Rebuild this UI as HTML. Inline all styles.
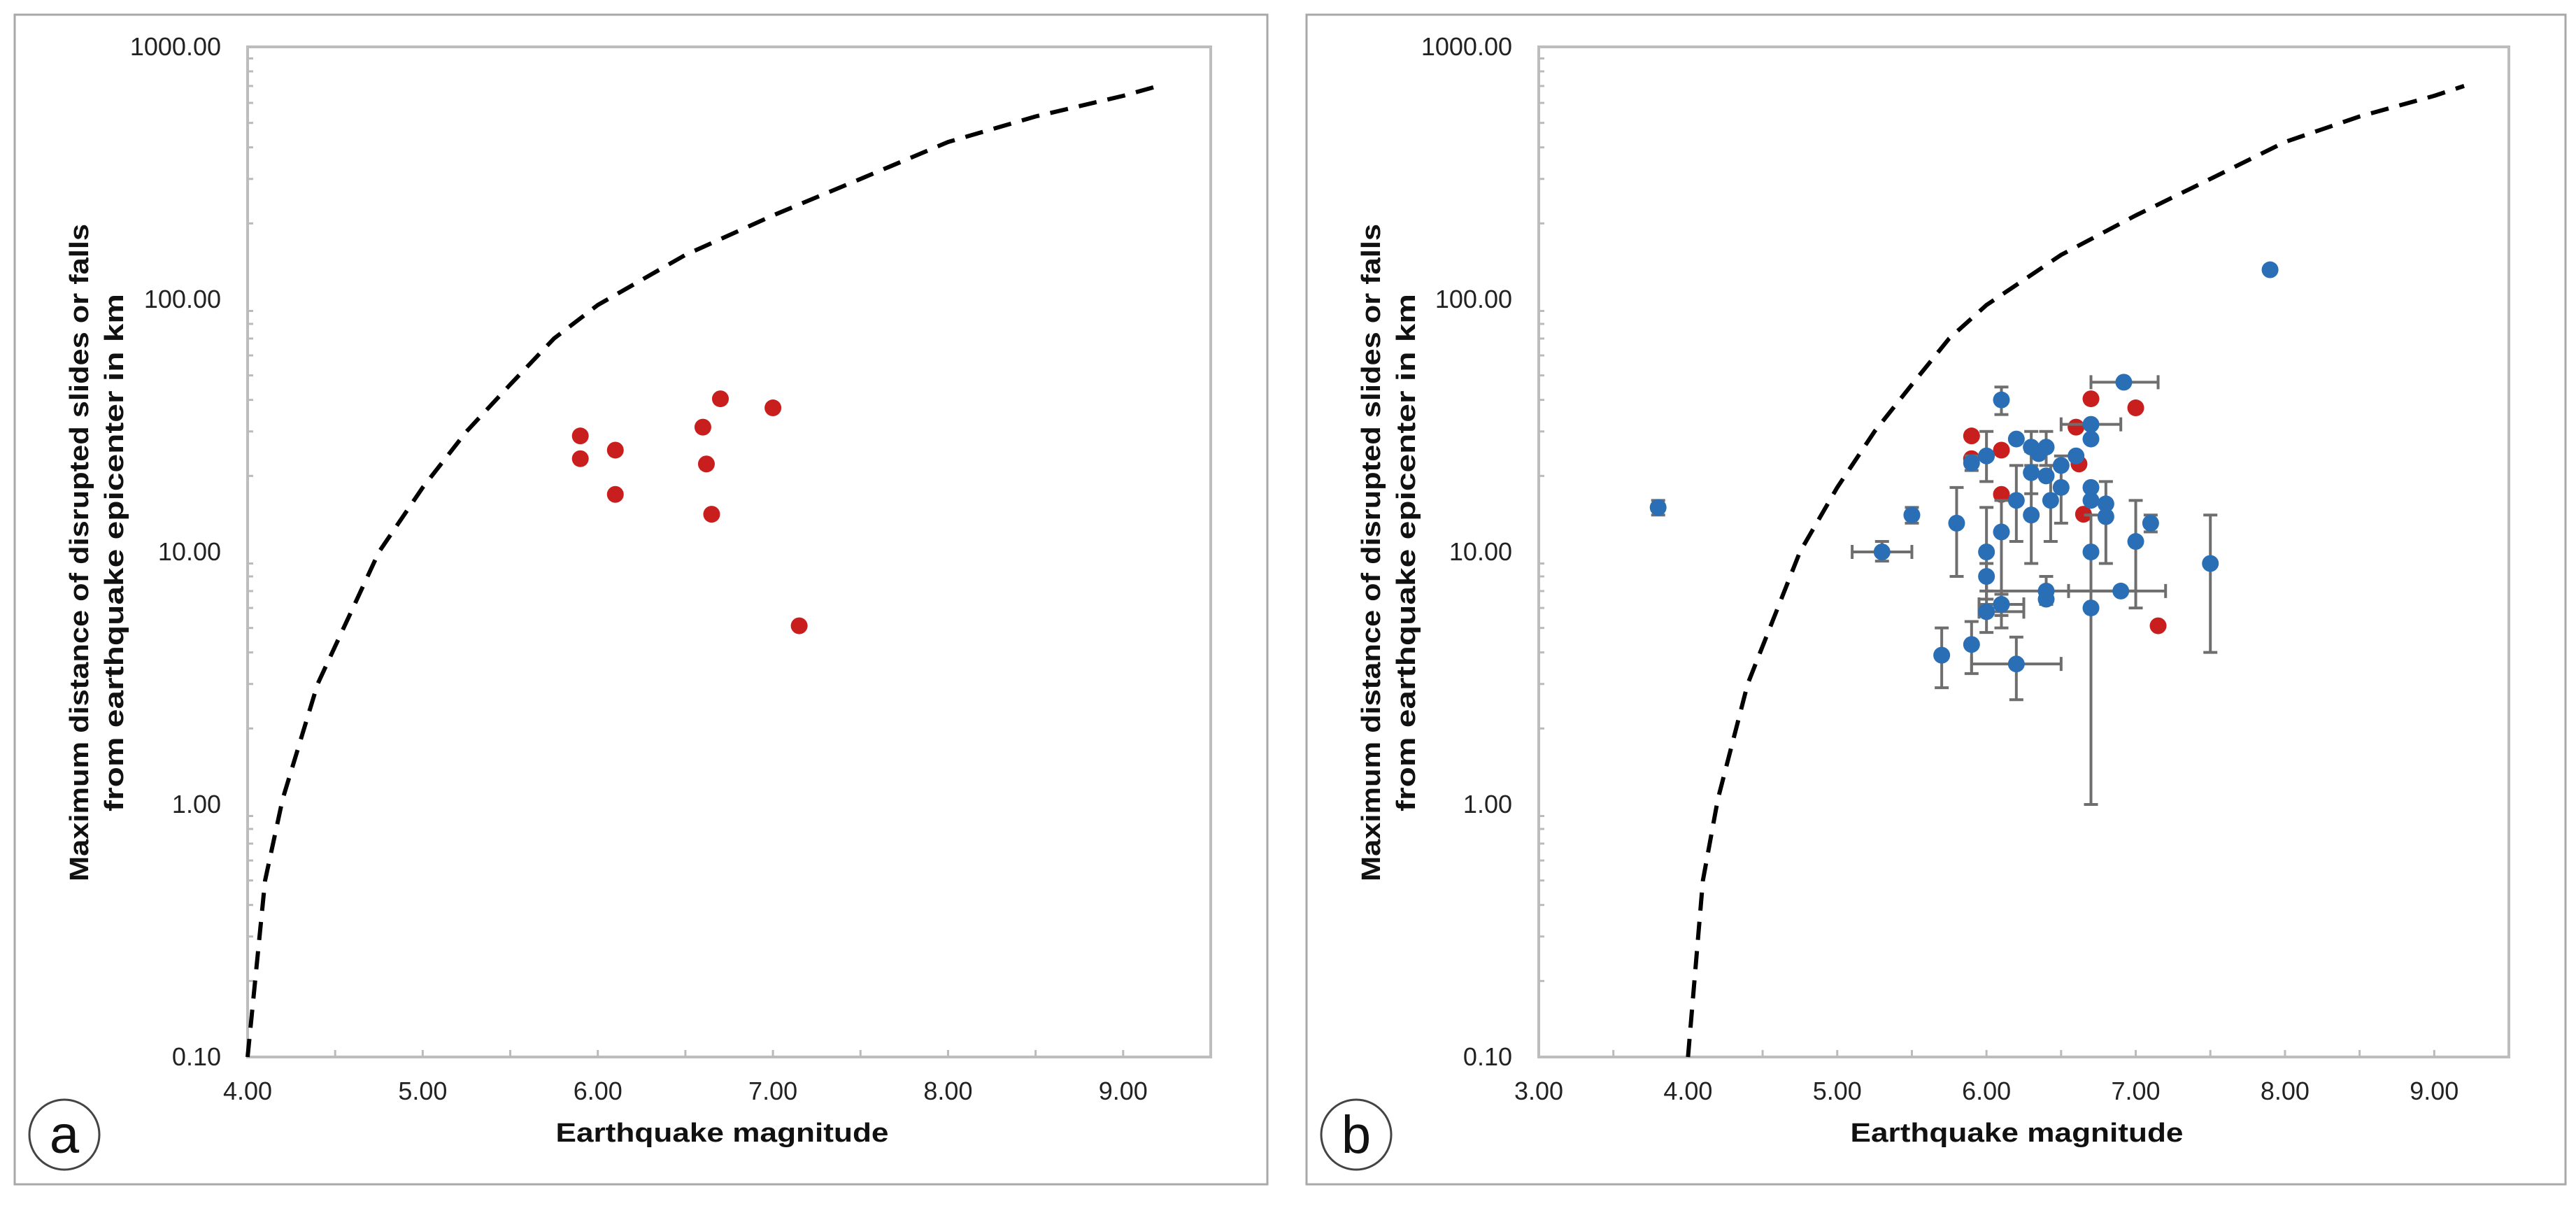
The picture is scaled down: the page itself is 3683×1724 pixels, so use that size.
<!DOCTYPE html>
<html><head><meta charset="utf-8"><title>Earthquake magnitude vs landslide distance</title>
<style>
html,body{margin:0;padding:0;background:#fff;}
svg{display:block;font-family:"Liberation Sans","DejaVu Sans",sans-serif;}
</style></head>
<body>
<svg id="fig" width="3683" height="1724" viewBox="0 0 3683 1724" xmlns="http://www.w3.org/2000/svg"></svg>
<script>
// Envelope curve (dashed)
const curveMag = [4.0, 4.1, 4.2, 4.4, 4.75, 5.0, 5.25, 5.5, 5.75, 6.0, 6.5, 7.0, 7.5, 8.0, 8.5, 9.0, 9.2];
const curveDist = [0.1, 0.5, 1.05, 3, 10, 18, 30, 46, 70, 95, 150, 215, 300, 420, 530, 640, 700];
// Red series
const redMag = [5.9, 5.9, 6.1, 6.1, 6.6, 6.7, 6.62, 6.65, 7.0, 7.15];
const redDist = [28.8, 23.4, 25.3, 16.9, 31.2, 40.4, 22.3, 14.1, 37.2, 5.1];
// Blue series with error bars (null = no bar)
const blueMag = [3.8, 5.3, 5.5, 5.8, 5.7, 5.9, 6.2, 5.9, 6.0, 6.0, 6.0, 6.0, 6.1, 6.1, 6.1, 6.2, 6.2, 6.3, 6.3, 6.3, 6.35, 6.4, 6.4, 6.4, 6.4, 6.43, 6.5, 6.5, 6.6, 6.7, 6.7, 6.7, 6.7, 6.7, 6.7, 6.8, 6.8, 6.9, 6.92, 7.0, 7.1, 7.5, 7.9];
const blueDist = [15, 10, 14, 13, 3.9, 4.3, 3.6, 22.5, 24, 10, 8, 5.8, 40, 12, 6.2, 28, 16, 26, 20.6, 14, 24.5, 26, 20, 7, 6.5, 16, 22, 18, 24, 32, 28, 18, 16, 10, 6, 15.5, 13.8, 7, 47, 11, 13, 9, 131];
const blueYLo = [14, 9.2, 13, 8, 2.9, 3.3, 2.6, 21, 19, 7, 6.5, 4.8, 35, 5, 5.6, null, 11, 22, 17, 9, null, 22, null, 6.2, null, 11, null, 13, null, null, null, null, null, null, 1, null, 9, null, null, 6, 12, 4, null];
const blueYHi = [16, 11, 15, 18, 5, 5.3, 4.6, 24, 30, 15, 9, 6.5, 45, 16, 6.8, 31, 22, 30, 25, 20, null, 30, null, 8, null, 22, null, 24, null, null, null, 25, null, null, 14, null, 19, null, null, 16, 14, 14, null];
const blueXLo = [null, 5.1, null, null, null, null, 5.9, null, null, null, null, 5.95, null, null, 5.95, null, null, null, null, null, null, null, null, 6.0, null, null, null, null, null, 6.5, null, null, null, null, null, null, null, 6.55, 6.7, null, null, null, null];
const blueXHi = [null, 5.5, null, null, null, null, 6.5, null, null, null, null, 6.25, null, null, 6.25, null, null, null, null, null, null, null, null, 7.0, null, null, null, null, null, 6.9, null, null, null, null, null, null, null, 7.2, 7.15, null, null, null, null];
// Axis ticks
const xTicksA = [4, 5, 6, 7, 8, 9];
const xTicksB = [3, 4, 5, 6, 7, 8, 9];
const yTicks = [0.1, 1, 10, 100, 1000];

const NS = "http://www.w3.org/2000/svg";
const svg = document.getElementById("fig");
function mk(tag, attrs, parent) {
  const e = document.createElementNS(NS, tag);
  for (const k in attrs) e.setAttribute(k, attrs[k]);
  (parent || svg).appendChild(e);
  return e;
}

function panel(cfg) {
  const g = mk("g", {});
  
  
  const fr = mk("rect", {x: cfg.fx, y: 21, width: cfg.fw, height: 1672, fill: "#fff", stroke: "#a8a8a8", "stroke-width": 3}, g);
  
  
  const L = cfg.left, R = cfg.right, T = 67, B = 1511;
  const sx = v => L + (v - cfg.xmin) / (cfg.xmax - cfg.xmin) * (R - L);
  const sy = v => B - (Math.log10(v) + 1) / 4 * (B - T);
  const box = mk("rect", {x: L, y: T, width: R - L, height: B - T, fill: "none", stroke: "#bdbdbd", "stroke-width": 4}, g);
  
  
  for (let d = -1; d < 3; d++) for (let m = 2; m <= 9; m++) {
    const y = sy(m * Math.pow(10, d));
    const t = mk("line", {x1: L, x2: L + 8, y1: y, y2: y, stroke: "#bbb", "stroke-width": 3}, g);
    
    
  }
  for (let v = cfg.xmin + 0.5; v < cfg.xmax; v += 0.5) {
    const x = sx(v);
    const t = mk("line", {x1: x, x2: x, y1: B, y2: B - 10, stroke: "#bbb", "stroke-width": 3}, g);
    
    
  }
  yTicks.forEach(v => {
    const t = mk("text", {x: L - 38, y: sy(v) + 12, "text-anchor": "end", "font-size": 36, fill: "#222"}, g);
    t.textContent = v.toFixed(2);
    
    
  });
  cfg.xticks.forEach(v => {
    const t = mk("text", {x: sx(v), y: 1572, "text-anchor": "middle", "font-size": 36, fill: "#222"}, g);
    t.textContent = v.toFixed(2);
    
    
  });
  const xt = mk("text", {x: (L + R) / 2 - 10, y: 1632, "text-anchor": "middle", "font-size": 38, "font-weight": "bold", fill: "#111", textLength: 476, lengthAdjust: "spacingAndGlyphs"}, g);
  xt.textContent = "Earthquake magnitude";
  
  
  const ycx = cfg.fx + 105, ycy = 790;
  const yt = mk("text", {transform: `translate(${ycx},${ycy}) rotate(-90)`, "text-anchor": "middle", "font-size": 38, "font-weight": "bold", fill: "#111"}, g);
  
  
  const t1 = mk("tspan", {x: 0, y: 0, textLength: 940, lengthAdjust: "spacingAndGlyphs"}, yt);
  t1.textContent = "Maximum distance of disrupted slides or falls";
  const t2 = mk("tspan", {x: 0, y: 50, textLength: 740, lengthAdjust: "spacingAndGlyphs"}, yt);
  t2.textContent = "from earthquake epicenter in km";
  const pts = [];
  for (let i = 0; i < curveMag.length; i++) pts.push(sx(curveMag[i]).toFixed(1) + "," + sy(curveDist[i]).toFixed(1));
  const cp = mk("polyline", {points: pts.join(" "), fill: "none", stroke: "#000", "stroke-width": 6, "stroke-dasharray": "26 16", "stroke-linejoin": "round"}, g);
  
  
  for (let i = 0; i < redMag.length; i++) {
    const c = mk("circle", {cx: sx(redMag[i]), cy: sy(redDist[i]), r: 12, fill: "#c81e1e"}, g);
    
    
  }
  if (cfg.blue) {
    for (let i = 0; i < blueMag.length; i++) {
      const x = sx(blueMag[i]), y = sy(blueDist[i]);
      if (blueYLo[i] !== null) {
        const y1 = sy(blueYLo[i]), y2 = sy(blueYHi[i]);
        const e = mk("path", {d: `M${x},${y1}V${y2}M${x-10},${y1}H${x+10}M${x-10},${y2}H${x+10}`, stroke: "#6e6e6e", "stroke-width": 4, fill: "none"}, g);
        
        
      }
      if (blueXLo[i] !== null) {
        const x1 = sx(blueXLo[i]), x2 = sx(blueXHi[i]);
        const e = mk("path", {d: `M${x1},${y}H${x2}M${x1},${y-10}V${y+10}M${x2},${y-10}V${y+10}`, stroke: "#6e6e6e", "stroke-width": 4, fill: "none"}, g);
        
        
      }
    }
    for (let i = 0; i < blueMag.length; i++) {
      const c = mk("circle", {cx: sx(blueMag[i]), cy: sy(blueDist[i]), r: 12, fill: "#2a6fb5"}, g);
      
      
    }
  }
  const lc = mk("circle", {cx: cfg.fx + 71, cy: 1622, r: 50, fill: "none", stroke: "#444", "stroke-width": 3}, g);
  
  
  const lt = mk("text", {x: cfg.fx + 71, y: 1648, "text-anchor": "middle", "font-size": 76, fill: "#111"}, g);
  lt.textContent = cfg.label;
  
  
}

panel({name: "panel-a", fx: 21, fw: 1791, left: 354, right: 1731, xmin: 4, xmax: 9.5, xticks: xTicksA, blue: false, label: "a"});
panel({name: "panel-b", fx: 1868, fw: 1800, left: 2200, right: 3587, xmin: 3, xmax: 9.5, xticks: xTicksB, blue: true, label: "b"});
</script>
</body></html>
